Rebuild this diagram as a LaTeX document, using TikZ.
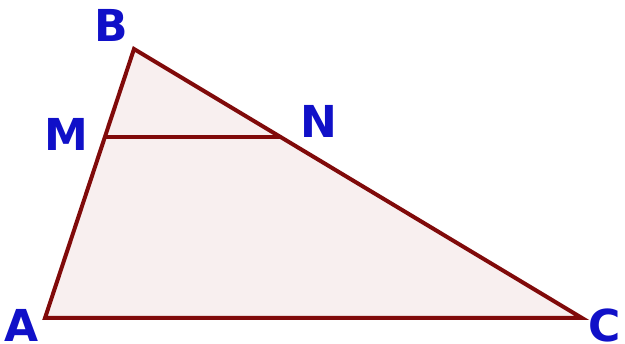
\documentclass[tikz,border=0pt]{standalone}
\usepackage{fontspec}
\setmainfont{DejaVu Sans}
\usepackage{xcolor}
\usetikzlibrary{positioning}
\definecolor{edgered}{HTML}{800A0A}
\definecolor{fillpink}{HTML}{F8EFEF}
\definecolor{labelblue}{HTML}{1010C8}

\begin{document}
\begin{tikzpicture}[
    x=1pt, y=-1pt,
    side/.style={draw=edgered, line width=4pt, line join=miter},
    vertex/.style={text=labelblue, font=\fontsize{44}{44}\selectfont\bfseries, inner sep=0pt},
]
\useasboundingbox (0,0) rectangle (625,344);

% Vertices of the triangle
\coordinate (A) at (45,318);
\coordinate (B) at (134,49);
\coordinate (C) at (582,318);
\coordinate (M) at (105,137);
\coordinate (N) at (281,137);

% Triangle and midline
\fill[fillpink] (A) -- (B) -- (C) -- cycle;
\draw[side] (A) -- (B) -- (C) -- cycle;
\draw[side] (M) -- (N);

% Labels
\node[vertex] (labelA) at (22,325) {A};
\node[vertex] (labelB) at (111,25) {B};
\node[vertex] (labelC) at (605,325) {C};
\node[vertex] (labelM) at (66,134) {M};
\node[vertex] (labelN) at (319,121) {N};

\end{tikzpicture}
\end{document}
